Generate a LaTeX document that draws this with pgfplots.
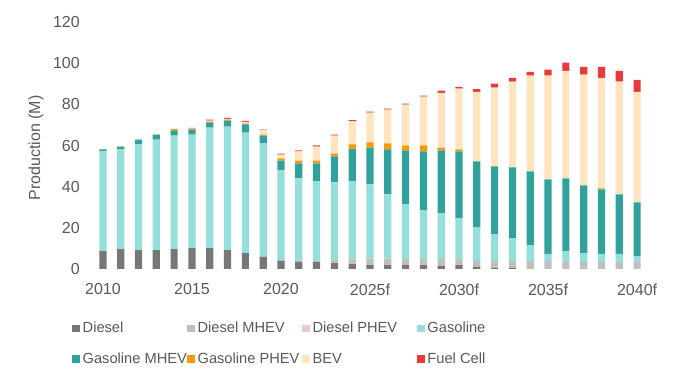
\documentclass[border=0pt]{standalone}
\usepackage{fontspec}
\setmainfont{Liberation Sans}
\usepackage{pgfplots}
\usepackage{pgfplotstable}
\pgfplotsset{compat=1.18}
\definecolor{cD}{HTML}{777777}
\definecolor{cDM}{HTML}{BFBFBF}
\definecolor{cDP}{HTML}{E4C8E0}
\definecolor{cG}{HTML}{95DFDB}
\definecolor{cGM}{HTML}{31A19D}
\definecolor{cGP}{HTML}{FF9900}
\definecolor{cBEV}{HTML}{FFE4C0}
\definecolor{cFC}{HTML}{E8393D}
\definecolor{txt}{HTML}{595959}
\pgfplotstableread{
year D DM DP G GM GP BEV FC
2010 8.7 0 0 48.4 1.0 0 0.4 0
2011 9.7 0 0 48.4 1.4 0 0.5 0
2012 9.2 0 0 51.3 2.4 0 0.5 0
2013 9.2 0 0 53.7 2.4 0 0.5 0
2014 9.7 0 0 55.1 2.5 0.6 0.4 0
2015 10.2 0 0 55.1 2.4 0.2 0.3 0.4
2016 10.2 0 0 58.5 2.4 0.5 0.5 0.5
2017 9.2 0 0 60.0 2.9 0.5 0.3 0.5
2018 7.7 0 0 58.6 3.9 0.4 0.9 0.4
2019 5.8 0.5 0 54.7 3.8 0.5 2.0 0.4
2020 3.9 0.5 0 43.5 4.8 1.0 1.9 0.5
2021 3.4 0.5 0 40.1 7.3 1.4 4.4 0.5
2022 3.4 0.3 0.2 38.7 8.7 1.4 6.8 0.5
2023 2.9 1.5 0 37.7 12.6 1.4 8.7 0.5
2024 2.4 2.0 0.4 37.8 15.9 2.0 11.3 0.5
2025 1.9 2.9 0.5 35.8 17.9 2.5 14.5 0.5
2026 1.9 2.9 0.5 31.0 21.8 2.9 16.4 0.5
2027 1.9 2.9 0 26.7 26.1 2.4 19.8 0.5
2028 1.9 2.9 0 23.7 28.6 2.9 23.7 0.5
2029 1.5 3.3 0 22.3 30.5 1.4 26.6 1.0
2030 1.9 2.9 0 19.9 32.4 1.0 29.5 0.9
2031 1.0 2.9 0 16.4 32.0 0 33.8 1.3
2032 0.5 3.4 0 13.0 32.9 0 38.3 1.9
2033 0.5 3.4 0 11.1 34.4 0 41.6 1.9
2034 0 3.9 0 7.7 35.8 0 46.5 1.9
2035 0 3.9 0 3.4 36.2 0 50.4 2.9
2036 0 3.4 0 5.3 35.3 0 52.3 3.9
2037 0 3.4 0 4.3 32.9 0 53.8 3.8
2038 0 3.4 0 3.9 31.4 0.5 53.7 5.3
2039 0 3.4 0 3.9 29.0 0 54.7 5.3
2040 0 3.4 0 2.9 26.1 0 53.7 5.8
}\data
\begin{document}
\begin{tikzpicture}[font=\fontsize{12}{14.4}\selectfont, text=txt]
\useasboundingbox (-70.5pt,-86.25pt) rectangle (438pt,201.75pt);
\begin{axis}[
  at={(0,0)}, anchor=south west,
  scale only axis, width=414pt, height=185.25pt,
  xmin=2009.5, xmax=2040.5, ymin=0, ymax=120,
  ybar stacked, bar width=5.4pt,
  axis line style={draw=none},
  major tick length=0pt,
  ytick={0,20,...,120},
  xtick={2010,2015,...,2040},
  xticklabels={2010,2015,2020,2025f,2030f,2035f,2040f},
  /pgf/number format/assume math mode=true,
  yticklabel style={anchor=east, inner sep=0pt, xshift=-10.5pt, text=txt},
  xticklabel style={anchor=north, inner sep=0pt, yshift=-10.7pt, text=txt},
  ylabel={Production (M)},
  ylabel style={at={(axis description cs:-0.1051,0.49)}, anchor=center, rotate=0, text=txt},
  every axis plot/.append style={draw=none,
    legend image code/.code={\fill[##1] (0pt,-2.8pt) rectangle (5.6pt,2.8pt);}},
  legend columns=4,
  legend cell align=left,
  legend style={at={(axis description cs:0,0)}, anchor=north west,
    xshift=-16.5pt, yshift=-39.8pt, draw=none, fill=none,
    inner sep=0pt, row sep=13.4pt, font=\fontsize{11}{13}\selectfont,
    nodes={inner sep=0pt, text=txt},
    /tikz/every odd column/.append style={column sep=2.2pt}},
]
\addplot[fill=cD] table[x=year,y=D]{\data};
\addlegendentry{\makebox[78.4pt][l]{Diesel}}
\addplot[fill=cDM] table[x=year,y=DM]{\data};
\addlegendentry{\makebox[78.4pt][l]{Diesel MHEV}}
\addplot[fill=cDP] table[x=year,y=DP]{\data};
\addlegendentry{\makebox[78.4pt][l]{Diesel PHEV}}
\addplot[fill=cG] table[x=year,y=G]{\data};
\addlegendentry{\makebox[78.4pt][l]{Gasoline}}
\addplot[fill=cGM] table[x=year,y=GM]{\data};
\addlegendentry{\makebox[78.4pt][l]{Gasoline MHEV}}
\addplot[fill=cGP] table[x=year,y=GP]{\data};
\addlegendentry{\makebox[78.4pt][l]{Gasoline PHEV}}
\addplot[fill=cBEV] table[x=year,y=BEV]{\data};
\addlegendentry{\makebox[78.4pt][l]{BEV}}
\addplot[fill=cFC] table[x=year,y=FC]{\data};
\addlegendentry{\makebox[78.4pt][l]{Fuel Cell}}
\end{axis}
\end{tikzpicture}
\end{document}
